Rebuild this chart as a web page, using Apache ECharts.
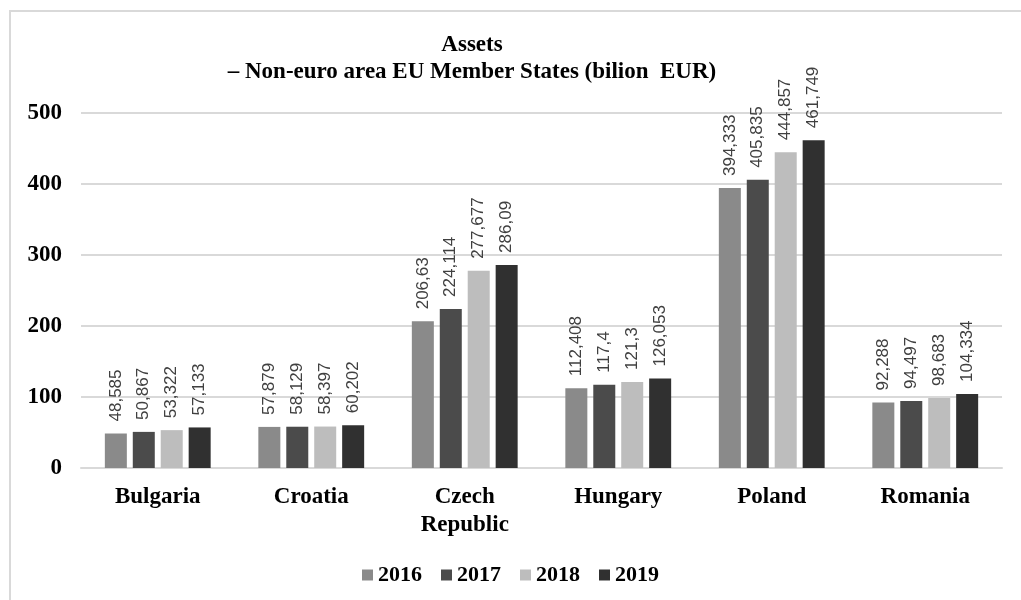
<!DOCTYPE html>
<html>
<head>
<meta charset="utf-8">
<script src="https://cdn.jsdelivr.net/npm/echarts@6/dist/echarts.min.js"></script>
<style>
  html, body { margin: 0; padding: 0; background: #ffffff; }
  #chart { width: 1021px; height: 600px; }
</style>
</head>
<body>
<div id="chart"></div>
<script>
// Countries on the category axis
const countries = ['Bulgaria', 'Croatia', 'Czech\nRepublic', 'Hungary', 'Poland', 'Romania'];
// Total assets per year, billion EUR
const years = ['2016', '2017', '2018', '2019'];
const assets2016 = [48.585, 57.879, 206.63, 112.408, 394.333, 92.288];
const assets2017 = [50.867, 58.129, 224.114, 117.4, 405.835, 94.497];
const assets2018 = [53.322, 58.397, 277.677, 121.3, 444.857, 98.683];
const assets2019 = [57.133, 60.202, 286.09, 126.053, 461.749, 104.334];
const yTicks = [0, 100, 200, 300, 400, 500];

const seriesValues = [assets2016, assets2017, assets2018, assets2019];
const colors = ['#8a8a8a', '#4b4b4b', '#bdbdbd', '#303030'];

const serif = '"Liberation Serif", "Times New Roman", serif';
const sans = '"Liberation Sans", Arial, sans-serif';
const serifSize = 23;

const chart = echarts.init(document.getElementById('chart'));

chart.setOption({
  backgroundColor: '#ffffff',
  animation: false,
  title: {
    text: 'Assets\n– Non-euro area EU Member States (bilion  EUR)',
    left: 467, top: 27,
    textAlign: 'center',
    textStyle: {
      fontFamily: serif, fontWeight: 'bold', fontSize: serifSize,
      lineHeight: 27, color: '#000'
    }
  },
  graphic: [{
    type: 'rect',
    shape: { x: 10, y: 11, width: 1100, height: 700 },
    style: { fill: 'none', stroke: '#d9d9d9', lineWidth: 2 },
    silent: true
  }],
  legend: {
    top: 559,
    left: 'center',
    itemWidth: 11, itemHeight: 11,
    itemGap: 19,
    icon: 'rect',
    textStyle: { fontFamily: serif, fontWeight: 'bold', fontSize: 22, color: '#000' },
    data: years
  },
  grid: { left: 81, right: 19, top: 113, bottom: 132 },
  xAxis: {
    type: 'category',
    data: countries,
    axisTick: { show: false },
    axisLine: { lineStyle: { color: '#d9d9d9', width: 2 } },
    axisLabel: {
      margin: 15,
      fontFamily: serif, fontWeight: 'bold', fontSize: serifSize, color: '#000',
      lineHeight: 28
    }
  },
  yAxis: {
    type: 'value',
    min: yTicks[0], max: yTicks[yTicks.length - 1], interval: 100,
    axisLine: { show: false },
    axisTick: { show: false },
    splitLine: { lineStyle: { color: '#d9d9d9', width: 2 } },
    axisLabel: {
      margin: 19,
      fontFamily: serif, fontWeight: 'bold', fontSize: serifSize, color: '#000'
    }
  },
  series: years.map((y, i) => ({
    name: y,
    type: 'bar',
    data: seriesValues[i],
    barWidth: 22,
    barGap: '27%',
    itemStyle: { color: colors[i] },
    label: {
      show: true,
      position: 'top',
      rotate: 90,
      align: 'left',
      verticalAlign: 'middle',
      distance: 12,
      fontFamily: sans, fontSize: 17, color: '#404040',
      formatter: p => String(p.value).replace('.', ',')
    }
  }))
});
</script>
</body>
</html>
